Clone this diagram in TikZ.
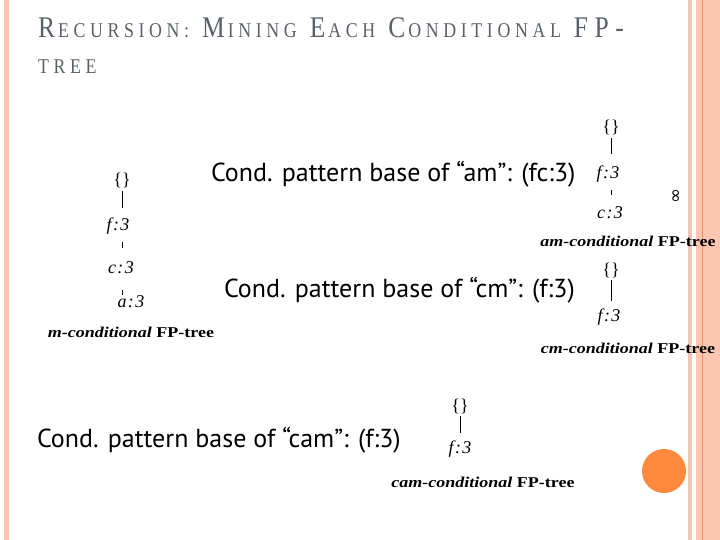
\documentclass[tikz,border=0pt]{standalone}
\usepackage{fontspec}
\setmainfont{Liberation Serif}
\newfontfamily\condfont{PT Sans}
\newfontfamily\titlefont[FakeStretch=0.85,LetterSpace=22]{Liberation Serif}
\newfontfamily\capfont[FakeStretch=1.2]{Liberation Serif}
\newfontfamily\symfont{DejaVu Sans}
\usetikzlibrary{positioning}
\definecolor{bandpink}{HTML}{FCC6B0}
\definecolor{bandline}{HTML}{E9906C}
\definecolor{thinpink}{HTML}{F3C5B3}
\definecolor{dotorange}{HTML}{FF8A3D}
\definecolor{titlegray}{HTML}{5B6068}
\newcommand{\smallcap}[1]{\kern3pt{\fontsize{21}{21}\selectfont #1}}
\newcommand{\cnt}[2]{#1\kern1.5pt:\kern1.5pt#2}

\begin{document}
\begin{tikzpicture}[x=1pt, y=-1pt,
  every node/.style={inner sep=0pt, outer sep=0pt},
  root/.style={font=\fontsize{18}{18}\selectfont},
  item/.style={font=\fontsize{18}{18}\selectfont\itshape},
  basetext/.style={font=\condfont\fontsize{26}{26}\selectfont, anchor=base west},
  caption/.style={font=\capfont\fontsize{15}{15}\selectfont\bfseries},
  edge/.style={draw=black, line width=0.6pt},
  titletext/.style={anchor=base west, text=titlegray, font=\titlefont\fontsize{30}{30}\selectfont}
]
  \useasboundingbox (0,0) rectangle (720,540);
  % slide frame
  \fill[bandpink] (4,0) rectangle (9,540);
  \fill[thinpink] (688,0) rectangle (692,540);
  \fill[bandpink] (696,0) rectangle (720,540);
  \draw[bandline, line width=1pt] (702.5,0) -- (702.5,540);
  \fill[dotorange] (664,471) circle (22);
  \node[font=\symfont\fontsize{18}{18}\selectfont, rotate=90] (mark) at (677,196) {∞};

  % title
  \node[titletext] (title1) at (38,38)
    {R\smallcap{ECURSION:} M\smallcap{INING} E\smallcap{ACH} C\smallcap{ONDITIONAL} FP-};
  \node[titletext, xshift=-3pt] (title2) at (38,74) {\smallcap{TREE}};

  % m-conditional tree
  \node[root] (m0) at (122,180) {\{\}};
  \node[item] (m1) at (118,226) {\cnt{f}{3}};
  \node[item] (m2) at (121,268) {\cnt{c}{3}};
  \node[item] (m3) at (131,302) {\cnt{a}{3}};
  \draw[edge, shorten <=4pt, shorten >=10pt] (m0.south) -- (m0.south |- m1.north);
  \draw[edge, shorten <=8pt, shorten >=14pt] (m0.south |- m1.south) -- (m0.south |- m2.north);
  \draw[edge, shorten <=16pt, shorten >=1pt] (m0.south |- m2.south) -- (m0.south |- m3.north);
  \node[caption] (mcap) at (131,332) {\textit{m-conditional} FP-tree};

  % am-conditional tree
  \node[basetext] (amtext) at (211,182) {Cond. pattern base of “am”: (fc:3)};
  \node[root] (am0) at (611,127) {\{\}};
  \node[item] (am1) at (608,174) {\cnt{f}{3}};
  \node[item] (am2) at (610,213) {\cnt{c}{3}};
  \draw[edge, shorten <=4pt, shorten >=12pt] (am0.south) -- (am0.south |- am1.north);
  \draw[edge, shorten <=8pt, shorten >=12pt] (am0.south |- am1.south) -- (am0.south |- am2.north);
  \node[caption] (amcap) at (628,241) {\textit{am-conditional} FP-tree};

  % cm-conditional tree
  \node[basetext] (cmtext) at (224,297) {Cond. pattern base of “cm”: (f:3)};
  \node[root] (cm0) at (611,270) {\{\}};
  \node[item] (cm1) at (609,317) {\cnt{f}{3}};
  \draw[edge, shorten <=3pt, shorten >=8pt] (cm0.south) -- (cm0.south |- cm1.north);
  \node[caption] (cmcap) at (628,348) {\textit{cm-conditional} FP-tree};

  % cam-conditional tree
  \node[basetext] (camtext) at (37,447) {Cond. pattern base of “cam”: (f:3)};
  \node[root] (cam0) at (460,406) {\{\}};
  \node[item] (cam1) at (460,449) {\cnt{f}{3}};
  \draw[edge, shorten <=3pt, shorten >=8pt] (cam0.south) -- (cam0.south |- cam1.north);
  \node[caption] (camcap) at (483,482) {\textit{cam-conditional} FP-tree};
\end{tikzpicture}
\end{document}
